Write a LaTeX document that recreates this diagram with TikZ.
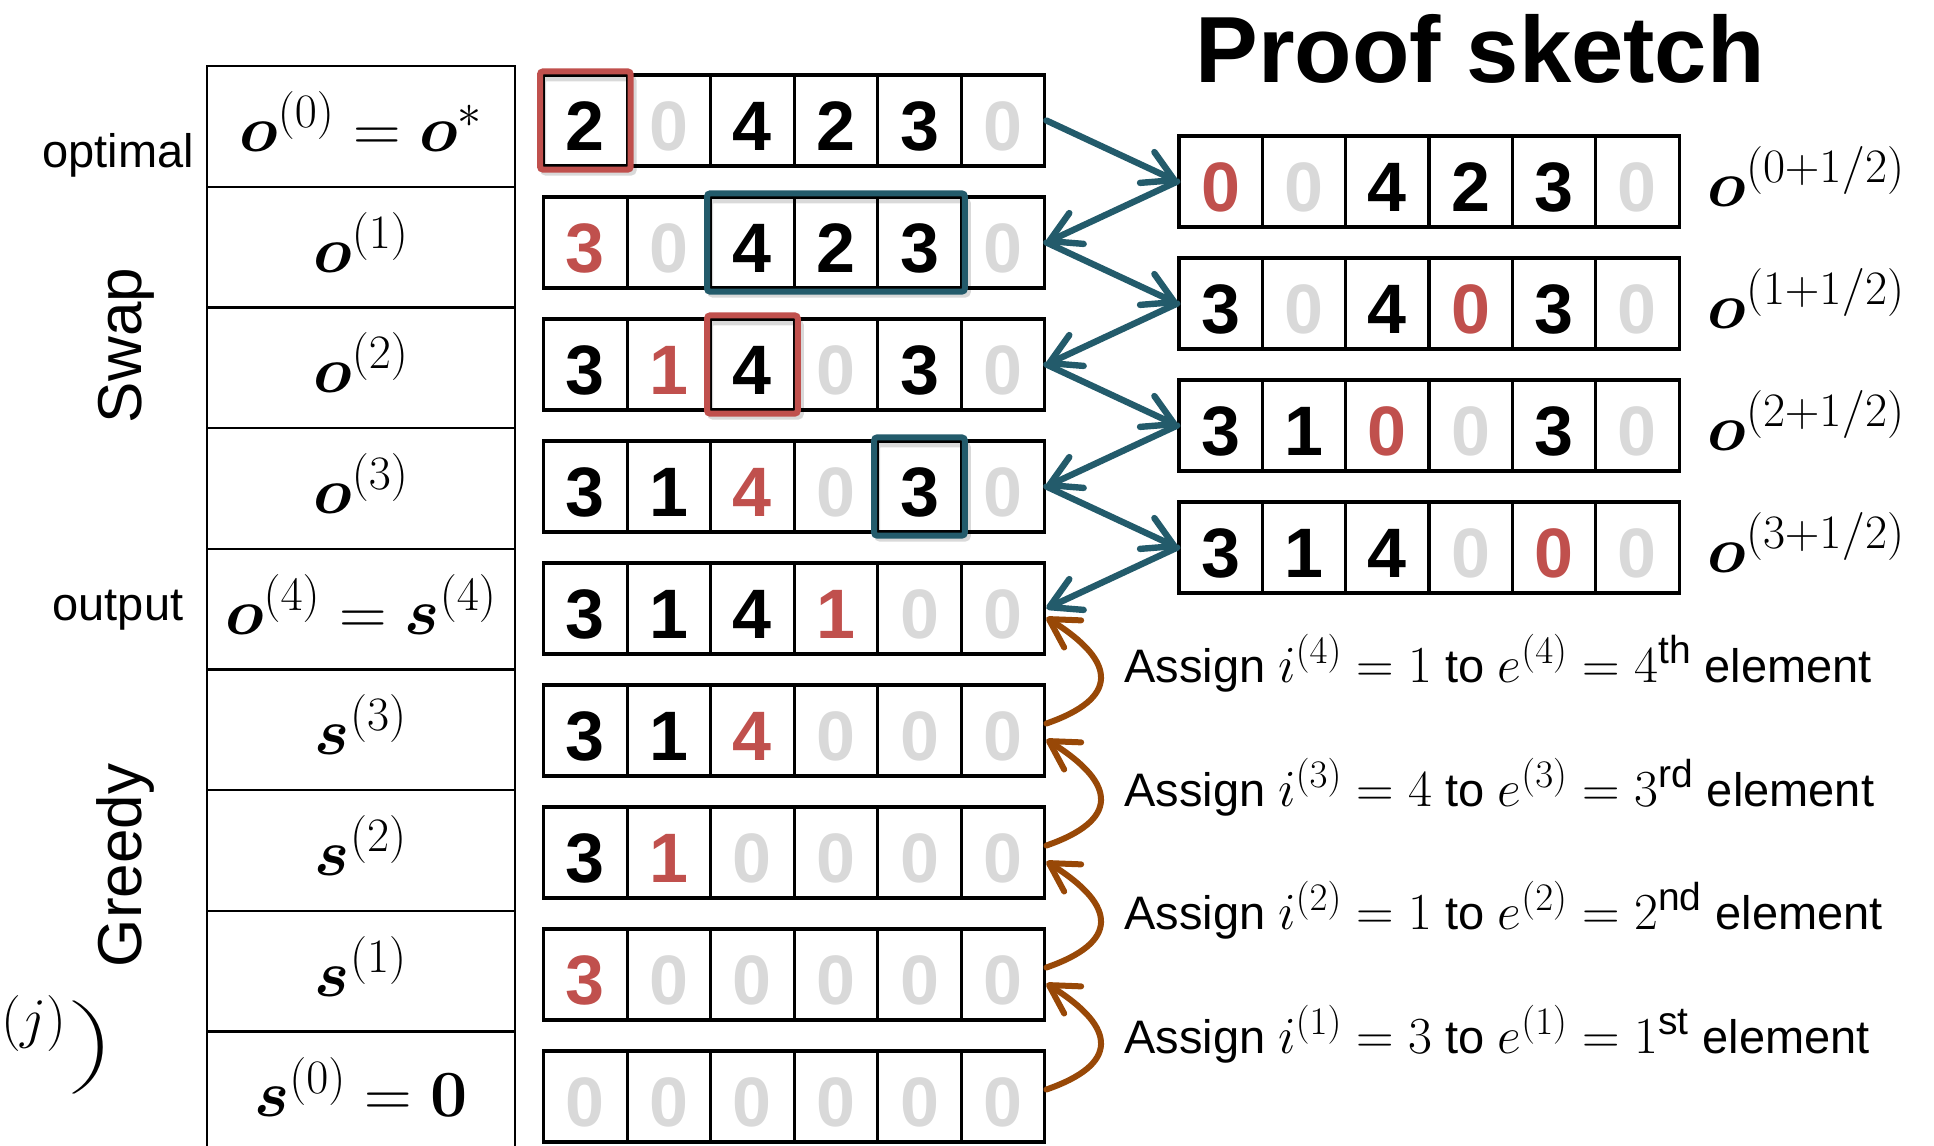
\RequirePackage{fix-cm}
\documentclass[tikz,border=0pt]{standalone}
\usepackage{amsmath}
\usepackage{bm}
\usepackage{graphicx}
\usepackage[no-math]{fontspec}
\setmainfont{Liberation Sans}
\usetikzlibrary{arrows.meta}
\DeclareMathSizes{30}{33}{24}{18}
\DeclareMathSizes{23.5}{26}{19.5}{14}
\definecolor{ck}{HTML}{000000}
\definecolor{cr}{HTML}{C0504D}
\definecolor{cg}{HTML}{D9D9D9}
\definecolor{cteal}{HTML}{235B6B}
\definecolor{cbrown}{HTML}{984807}
\begin{document}
\begin{tikzpicture}[x=0.5pt,y=0.5pt,
  cell/.style={draw, line width=1.6pt, minimum width=41.77pt, minimum height=45.5pt, inner sep=0pt,
    text height=29.5pt, text depth=0pt, font=\fontsize{35}{40}\selectfont\bfseries},
  trow/.style={draw, line width=1.2pt, minimum width=154pt, minimum height=60.35pt, inner sep=0pt,
    text height=25pt, text depth=0pt, font=\fontsize{30}{34}\selectfont},
  side/.style={font=\fontsize{23.5}{26}\selectfont, anchor=base},
  vside/.style={font=\fontsize{31}{34}\selectfont, anchor=base, rotate=90},
  hl/.style={line width=3pt, rounded corners=1.5pt},
  hlshadow/.style={line width=3pt, rounded corners=1.5pt, black, opacity=0.15},
  tarrow/.style={draw=cteal, line width=3.2pt, line cap=round, -{Straight Barb[length=15pt, width=17pt, round]}},
  barrow/.style={draw=cbrown, line width=3pt, line cap=round, -{Straight Barb[length=14pt, width=16pt, round]}},
  asg/.style={font=\fontsize{23.5}{26}\selectfont, anchor=base west, inner sep=0pt},
  hlab/.style={font=\fontsize{30}{34}\selectfont, anchor=base west, inner sep=0pt},
]
\useasboundingbox (0,0) rectangle (1934,-1146);
\clip (0,0) rectangle (1934,-1146);

% left table
\foreach \ti/\tt in {0/{$\bm{o}^{(0)}=\bm{o}^{*}$}, 1/{$\bm{o}^{(1)}$}, 2/{$\bm{o}^{(2)}$}, 3/{$\bm{o}^{(3)}$},
  4/{$\bm{o}^{(4)}=\bm{s}^{(4)}$}, 5/{$\bm{s}^{(3)}$}, 6/{$\bm{s}^{(2)}$}, 7/{$\bm{s}^{(1)}$},
  8/{$\bm{s}^{(0)}=\mathbf{0}$}}
  \node[trow] (t\ti) at (361, {-(126.35+120.7*\ti)}) {\tt};

% side labels
\node[side] (lopt) at (118,-167) {optimal};
\node[side] (lout) at (118,-620) {output};
\node[vside] (lswap) at (141,-345.5) {Swap};
\node[vside] (lgreedy) at (141,-865.5) {Greedy};
\node[font=\fontsize{28}{30}\selectfont, anchor=east, inner sep=0pt] (jsup) at (67,-1023.5) {$(j)$};
\node[font=\fontsize{28}{30}\selectfont, inner sep=0pt] (bigp) at (93,-1047.5) {\scalebox{1.25}[0.78]{$\Big)$}};

% title
\node[font=\fontsize{47}{50}\selectfont\bfseries, anchor=base] (title) at (1480,-82) {Proof sketch};

% middle arrays
\foreach \ri/\cells in {
 0/{2/k,0/g,4/k,2/k,3/k,0/g},
 1/{3/r,0/g,4/k,2/k,3/k,0/g},
 2/{3/k,1/r,4/k,0/g,3/k,0/g},
 3/{3/k,1/k,4/r,0/g,3/k,0/g},
 4/{3/k,1/k,4/k,1/r,0/g,0/g},
 5/{3/k,1/k,4/r,0/g,0/g,0/g},
 6/{3/k,1/r,0/g,0/g,0/g,0/g},
 7/{3/r,0/g,0/g,0/g,0/g,0/g},
 8/{0/g,0/g,0/g,0/g,0/g,0/g}}{
  \foreach \dg/\cl [count=\ci from 0] in \cells
    \node[cell, text=c\cl] (m\ri-\ci) at ({543.6+83.53*(\ci+0.5)}, {-(120.5+122*\ri)}) {\dg};
}

% right arrays
\foreach \ri/\cells in {
 0/{0/r,0/g,4/k,2/k,3/k,0/g},
 1/{3/k,0/g,4/k,0/r,3/k,0/g},
 2/{3/k,1/k,0/r,0/g,3/k,0/g},
 3/{3/k,1/k,4/k,0/g,0/r,0/g}}{
  \foreach \dg/\cl [count=\ci from 0] in \cells
    \node[cell, text=c\cl] (r\ri-\ci) at ({1179+83.33*(\ci+0.5)}, {-(181.5+122*\ri)}) {\dg};
  \node[hlab] (h\ri) at (1707, {-(206.5+122*\ri)}) {$\bm{o}^{(\ri+1/2)}$};
}

% highlight boxes
\draw[hlshadow] ([shift={(1,-5)}]m0-0.north west) rectangle ([shift={(5,-5)}]m0-0.south east);
\draw[hlshadow] ([shift={(1,-5)}]m1-2.north west) rectangle ([shift={(5,-5)}]m1-4.south east);
\draw[hlshadow] ([shift={(1,-5)}]m2-2.north west) rectangle ([shift={(5,-5)}]m2-2.south east);
\draw[hlshadow] ([shift={(1,-5)}]m3-4.north west) rectangle ([shift={(5,-5)}]m3-4.south east);
\draw[hl, cr] ([shift={(-2,2)}]m0-0.north west) rectangle ([shift={(2,-2)}]m0-0.south east);
\draw[hl, cteal] ([shift={(-2,2)}]m1-2.north west) rectangle ([shift={(2,-2)}]m1-4.south east);
\draw[hl, cr] ([shift={(-2,2)}]m2-2.north west) rectangle ([shift={(2,-2)}]m2-2.south east);
\draw[hl, cteal] ([shift={(-2,2)}]m3-4.north west) rectangle ([shift={(2,-2)}]m3-4.south east);

% teal swap arrows
\foreach \ri in {0,...,3} {
  \pgfmathtruncatemacro\nx{\ri+1}
  \draw[tarrow] (m\ri-5.east) -- (r\ri-0.west);
  \draw[tarrow] (r\ri-0.west) -- (m\nx-5.east);
}

% brown greedy arrows
\foreach \ki in {4,...,7} {
  \pgfmathtruncatemacro\nx{\ki+1}
  \draw[barrow] ([yshift=3.5pt]m\nx-5.east) .. controls +(72,25) and +(72,-45) .. ([yshift=-4.5pt]m\ki-5.east);
}

% assignment texts
\node[asg] (a4) at (1124,-682.5) {Assign $i^{(4)} = 1$ to $e^{(4)} = 4$\textsuperscript{th} element};
\node[asg] (a3) at (1124,-806) {Assign $i^{(3)} = 4$ to $e^{(3)} = 3$\textsuperscript{rd} element};
\node[asg] (a2) at (1124,-929.5) {Assign $i^{(2)} = 1$ to $e^{(2)} = 2$\textsuperscript{nd} element};
\node[asg] (a1) at (1124,-1053) {Assign $i^{(1)} = 3$ to $e^{(1)} = 1$\textsuperscript{st} element};
\end{tikzpicture}
\end{document}
